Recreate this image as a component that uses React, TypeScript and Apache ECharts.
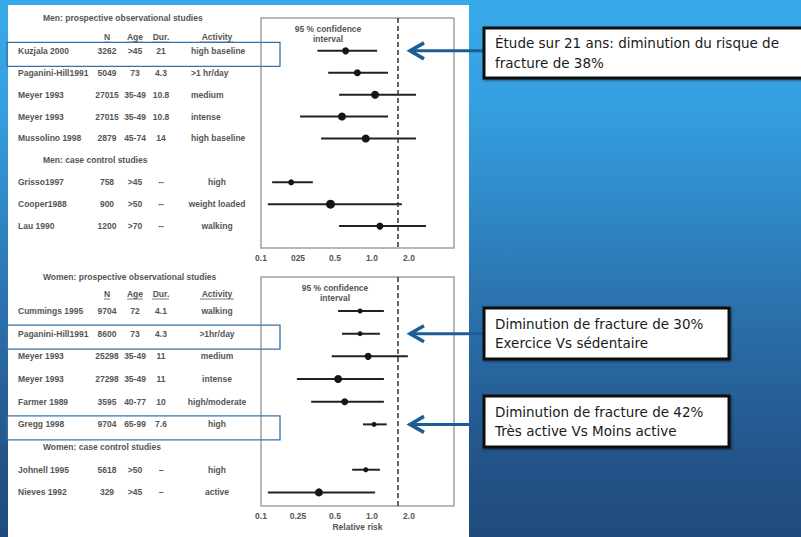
import React, { useEffect, useRef } from "react";
import * as echarts from "echarts";

// ---------- DATA ----------
const menTitles = ["Men: prospective observational studies", "Men: case control studies"];
const womenTitles = ["Women: prospective observational studies", "Women: case control studies"];
const tableHeaders = ["N", "Age", "Dur.", "Activity"];

const menStudies = ["Kuzjala 2000", "Paganini-Hill1991", "Meyer 1993", "Meyer 1993", "Mussolino 1998", "Grisso1997", "Cooper1988", "Lau 1990"];
const menN = ["3262", "5049", "27015", "27015", "2879", "758", "900", "1200"];
const menAge = [">45", "73", "35-49", "35-49", "45-74", ">45", ">50", ">70"];
const menDur = ["21", "4.3", "10.8", "10.8", "14", "--", "--", "--"];
const menActivity = ["high baseline", ">1 hr/day", "medium", "intense", "high baseline", "high", "weight loaded", "walking"];
const menProspectiveCount = 5;
const menRR = [0.61, 0.76, 1.06, 0.57, 0.89, 0.22, 0.46, 1.16];
const menLower = [0.36, 0.44, 0.54, 0.26, 0.385, 0.154, 0.142, 0.54];
const menUpper = [1.1, 1.35, 2.28, 1.35, 2.28, 0.33, 1.75, 2.75];

const womenStudies = ["Cummings 1995", "Paganini-Hill1991", "Meyer 1993", "Meyer 1993", "Farmer 1989", "Gregg 1998", "Johnell 1995", "Nieves 1992"];
const womenN = ["9704", "8600", "25298", "27298", "3595", "9704", "5618", "329"];
const womenAge = ["72", "73", "35-49", "35-49", "40-77", "65-99", ">50", ">45"];
const womenDur = ["4.1", "4.3", "11", "11", "10", "7.6", "–", "–"];
const womenActivity = ["walking", ">1hr/day", "medium", "intense", "high/moderate", "high", "high", "active"];
const womenProspectiveCount = 6;
const womenRR = [0.8, 0.8, 0.93, 0.53, 0.6, 1.04, 0.89, 0.37];
const womenLower = [0.53, 0.57, 0.47, 0.245, 0.32, 0.845, 0.69, 0.142];
const womenUpper = [1.25, 1.16, 1.96, 1.25, 1.25, 1.32, 1.16, 1.06];

const xTickValues = [0.125, 0.25, 0.5, 1, 2];
const menTickLabels = ["0.1", "025", "0.5", "1.0", "2.0"];
const womenTickLabels = ["0.1", "0.25", "0.5", "1.0", "2.0"];
const referenceRisk = 1.63;
const ciTitle = "95 % confidence\ninterval";
const xAxisName = "Relative risk";

const callout1 = "Étude sur 21 ans: diminution du risque de\nfracture de 38%";
const callout2 = "Diminution de fracture de 30%\nExercice Vs sédentaire";
const callout3 = "Diminution de fracture de 42%\nTrès active Vs Moins active";

// ---------- STYLES ----------
const menMarkerSizes = [7, 7, 8, 8, 8, 6, 9, 7];
const womenMarkerSizes = [5, 5, 7, 8, 7, 5, 5, 8];
const FONT = "'Liberation Sans', Arial, sans-serif";
const CALLOUT_FONT = "'DejaVu Sans', 'Noto Sans', sans-serif";
const TXT = "#555";
const DARK = "#161616";
const ARROW = "#1c5d96";
const HILITE = "#3872a5";

const rich = {
  sp: { width: 25, align: "left" },
  tt: { align: "left" },
  nm: { width: 74, align: "left" },
  n: { width: 30, align: "center" },
  ag: { width: 26, align: "center" },
  du: { width: 26, align: "center" },
  gap: { width: 17, align: "center" },
  al: { align: "center" },
  ac: { width: 86, align: "center" },
};

function rowOf(i: number, prosp: number) {
  return i < prosp ? i : i + 1;
}

function buildLabelMap(
  titles: string[], headerRow: number, studies: string[], N: string[], age: string[], dur: string[],
  act: string[], prosp: number, leftActivity: boolean
) {
  const m = new Map<number, string>();
  const key = (v: number) => Math.round(v * 8);
  m.set(key(-1.5), `{sp| }{tt|${titles[0]}}`);
  m.set(key(headerRow), `{nm| }{n|${tableHeaders[0]}}{ag|${tableHeaders[1]}}{du|${tableHeaders[2]}}{ac|${tableHeaders[3]}}`);
  m.set(key(prosp), `{sp| }{tt|${titles[1]}}`);
  studies.forEach((s, i) => {
    const base = `{nm|${s}}{n|${N[i]}}{ag|${age[i]}}{du|${dur[i]}}`;
    const a = i < prosp && leftActivity ? `{gap| }{al|${act[i]}}` : `{ac|${act[i]}}`;
    m.set(key(rowOf(i, prosp)), base + a);
  });
  return m;
}

const menLabels = buildLabelMap(menTitles, -0.625, menStudies, menN, menAge, menDur, menActivity, menProspectiveCount, true);
const womenLabels = buildLabelMap(womenTitles, -0.75, womenStudies, womenN, womenAge, womenDur, womenActivity, womenProspectiveCount, false);

const textBase = { fontSize: 8.5, fontWeight: "bold" as const, color: TXT, fontFamily: FONT };

function xAxisOf(i: number, labels: string[], name: string) {
  return {
    type: "log", logBase: 2, min: 0.125, max: 4.65, gridIndex: i,
    axisLine: { show: false }, axisTick: { show: false }, splitLine: { show: false },
    axisLabel: {
      ...textBase, margin: 5, showMinLabel: true, showMaxLabel: true,
      formatter: (v: number) => {
        const k = xTickValues.findIndex((t) => Math.abs(Math.log2(t) - Math.log2(v)) < 0.01);
        return k >= 0 ? labels[k] : "";
      },
    },
    name, nameLocation: "middle", nameGap: 16, nameTextStyle: { ...textBase },
  };
}

function yAxisOf(i: number, max: number, map: Map<number, string>) {
  return {
    type: "value", gridIndex: i, inverse: true, min: -1.5, max, interval: 0.125,
    axisLine: { show: false }, axisTick: { show: false }, splitLine: { show: false },
    axisLabel: {
      ...textBase, align: "left", margin: 243, showMinLabel: true, showMaxLabel: true,
      formatter: (v: number) => map.get(Math.round(v * 8)) ?? "",
      rich: Object.fromEntries(Object.entries(rich).map(([k, s]) => [k, { ...textBase, ...s }])),
    },
  };
}

function seriesOf(i: number, rr: number[], lo: number[], hi: number[], prosp: number, sizes: number[]) {
  return [
    {
      type: "custom", xAxisIndex: i, yAxisIndex: i, coordinateSystem: "cartesian2d", silent: true,
      data: lo.map((l, k) => [l, hi[k], rowOf(k, prosp)]),
      encode: { x: [0, 1], y: 2 },
      renderItem: (_p: any, api: any) => {
        const y = api.value(2);
        const a = api.coord([api.value(0), y]);
        const b = api.coord([api.value(1), y]);
        return { type: "line", shape: { x1: a[0], y1: a[1], x2: b[0], y2: b[1] }, style: { stroke: "#222", lineWidth: 2 } };
      },
    },
    {
      type: "scatter", xAxisIndex: i, yAxisIndex: i, silent: true,
      data: rr.map((r, k) => [r, rowOf(k, prosp)]),
      symbolSize: (_v: any, p: any) => sizes[p.dataIndex],
      itemStyle: { color: DARK, opacity: 1 },
      markLine: {
        silent: true, symbol: "none", label: { show: false },
        lineStyle: { type: [5, 3], color: "#333", width: 1.5 },
        data: [{ xAxis: referenceRisk }],
      },
    },
  ];
}

function buildOption() {
  return {
    animation: false,
    backgroundColor: {
      type: "linear", x: 0, y: 0, x2: 0, y2: 1,
      colorStops: [
        { offset: 0, color: "#37aaeb" },
        { offset: 0.2, color: "#359fe0" },
        { offset: 0.55, color: "#2b74b0" },
        { offset: 0.85, color: "#23548a" },
        { offset: 1, color: "#204b7c" },
      ],
    },
    grid: [
      { left: 261, top: 18, width: 193, height: 230, show: true, borderColor: "#a0a0a0", borderWidth: 1.5, backgroundColor: "transparent" },
      { left: 261, top: 277, width: 193, height: 229, show: true, borderColor: "#a0a0a0", borderWidth: 1.5, backgroundColor: "transparent" },
    ],
    xAxis: [xAxisOf(0, menTickLabels, ""), xAxisOf(1, womenTickLabels, xAxisName)],
    yAxis: [yAxisOf(0, 9, menLabels), yAxisOf(1, 8.6, womenLabels)],
    series: [
      ...seriesOf(0, menRR, menLower, menUpper, menProspectiveCount, menMarkerSizes),
      ...seriesOf(1, womenRR, womenLower, womenUpper, womenProspectiveCount, womenMarkerSizes),
    ],
  };
}

function arrow(y: number) {
  return [
    { type: "line", z: 20, shape: { x1: 412, y1: y, x2: 486, y2: y }, style: { stroke: ARROW, lineWidth: 3 } },
    { type: "polyline", z: 20, shape: { points: [[424, y - 8], [410, y], [424, y + 8]] }, style: { stroke: ARROW, lineWidth: 3.5, fill: null } },
  ];
}

function callout(x: number, y: number, w: number, h: number, text: string, lh: number) {
  return [
    {
      type: "rect", z: 20, shape: { x, y, width: w, height: h },
      style: { fill: "#fff", stroke: "#111", lineWidth: 3, shadowBlur: 2, shadowOffsetX: 1, shadowOffsetY: 1, shadowColor: "rgba(0,0,0,0.5)" },
    },
    {
      type: "text", z: 21, x: x + 11, y: y + h / 2,
      style: { text, fontSize: 13.5, fontFamily: CALLOUT_FONT, fill: "#1a1a1a", lineHeight: lh, verticalAlign: "middle", align: "left" },
    },
  ];
}

function buildGraphic(chart: any) {
  const py = (axis: number, v: number) => chart.convertToPixel({ yAxisIndex: axis }, v) as number;
  const underlines: any[] = [];
  const ulSpans = [[104, 110], [127, 143], [152, 169], [200, 234]];
  [py(0, -0.625), py(1, -0.75)].forEach((hy) => {
    ulSpans.forEach(([a, b]) => {
      underlines.push({ type: "line", z: 5, shape: { x1: a, y1: hy + 5, x2: b, y2: hy + 5 }, style: { stroke: TXT, lineWidth: 0.8 } });
    });
  });
  const hl = (axis: number, row: number) => {
    const y = py(axis, row);
    return { type: "rect", z: 15, shape: { x: 7, y: y - 8.5, width: 273, height: 24 }, style: { fill: null, stroke: HILITE, lineWidth: 1.3 } };
  };
  const r0 = py(0, 0);
  const r1 = py(1, rowOf(1, womenProspectiveCount));
  const r5 = py(1, rowOf(5, womenProspectiveCount));
  return [
    { type: "rect", z: -10, shape: { x: 8, y: 5, width: 461, height: 532 }, style: { fill: "#ffffff" } },
    {
      type: "text", z: 5, x: 328, y: 34,
      style: { text: ciTitle, ...textBase, fill: TXT, lineHeight: 10, align: "center", verticalAlign: "middle" },
    },
    {
      type: "text", z: 5, x: 335, y: 293,
      style: { text: ciTitle, ...textBase, fill: TXT, lineHeight: 10, align: "center", verticalAlign: "middle" },
    },
    ...underlines,
    hl(0, 0), hl(1, rowOf(1, womenProspectiveCount)), hl(1, rowOf(5, womenProspectiveCount)),
    ...arrow(r0), ...arrow(r1), ...arrow(r5),
    ...callout(484, 28, 330, 50, callout1, 20),
    ...callout(484, 308, 245, 51, callout2, 19),
    ...callout(484, 396, 245, 51, callout3, 19),
  ];
}

export default function App() {
  const ref = useRef<HTMLDivElement>(null);
  useEffect(() => {
    const chart = echarts.init(ref.current!, null, { renderer: "svg" });
    chart.setOption(buildOption() as any);
    chart.setOption({ graphic: buildGraphic(chart) } as any);
    return () => chart.dispose();
  }, []);
  return <div ref={ref} style={{ position: "absolute", left: 0, top: 0, width: 801, height: 537 }} />;
}
